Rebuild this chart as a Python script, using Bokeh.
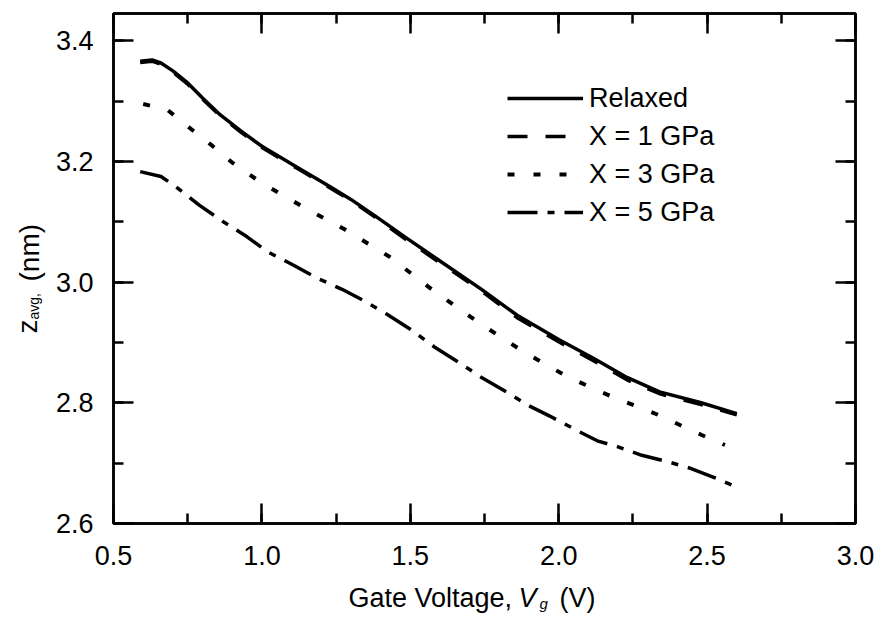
import math
from bokeh.plotting import figure
from bokeh.layouts import row, column
from bokeh.models import (Label, LinearAxis, Legend, LegendItem, SingleIntervalTicker,
                          PrintfTickFormatter, Range1d)
from bokeh.embed import file_html
from bokeh.resources import INLINE

# ---- data ----
x_relaxed = [0.59, 0.63, 0.66, 0.70, 0.75, 0.80, 0.86, 0.93, 1.00, 1.12, 1.23, 1.30, 1.38,
             1.49, 1.60, 1.74, 1.86, 2.00, 2.12, 2.23, 2.34, 2.48, 2.60]
y_relaxed = [3.366, 3.368, 3.363, 3.350, 3.330, 3.305, 3.277, 3.250, 3.225, 3.190, 3.158,
             3.137, 3.110, 3.072, 3.035, 2.988, 2.945, 2.905, 2.873, 2.842, 2.818, 2.800, 2.782]

x_1gpa = [0.59, 0.63, 0.66, 0.70, 0.75, 0.80, 0.86, 0.93, 1.00, 1.12, 1.23, 1.30, 1.38,
          1.49, 1.60, 1.74, 1.86, 2.00, 2.12, 2.23, 2.34, 2.48, 2.60]
y_1gpa = [3.364, 3.366, 3.361, 3.348, 3.328, 3.303, 3.275, 3.248, 3.223, 3.188, 3.156,
          3.135, 3.108, 3.069, 3.032, 2.985, 2.941, 2.901, 2.869, 2.838, 2.815, 2.797, 2.780]

x_3gpa = [0.60, 0.68, 0.75, 0.83, 0.90, 1.00, 1.13, 1.28, 1.43, 1.58, 1.73, 1.88, 2.03,
          2.18, 2.33, 2.48, 2.56]
y_3gpa = [3.295, 3.286, 3.258, 3.227, 3.198, 3.164, 3.127, 3.087, 3.042, 2.985, 2.933,
          2.885, 2.843, 2.810, 2.781, 2.747, 2.730]

x_5gpa = [0.59, 0.66, 0.71, 0.79, 0.87, 0.95, 1.02, 1.11, 1.18, 1.27, 1.34, 1.42, 1.50,
          1.58, 1.66, 1.74, 1.81, 1.90, 1.97, 2.07, 2.13, 2.20, 2.28, 2.37, 2.44, 2.52, 2.60]
y_5gpa = [3.183, 3.175, 3.158, 3.127, 3.100, 3.075, 3.050, 3.027, 3.008, 2.988, 2.970,
          2.947, 2.922, 2.893, 2.868, 2.842, 2.822, 2.795, 2.778, 2.752, 2.737, 2.727,
          2.713, 2.702, 2.692, 2.677, 2.660]

series_labels = ["Relaxed", "X = 1 GPa", "X = 3 GPa", "X = 5 GPa"]

FONT = "Liberation Sans"
FS = "27px"
W, H = 882, 619
LEFT_W = 50      # strip holding the y-axis title
BOTTOM_H = 40    # strip holding the x-axis title
B_LEFT, B_RIGHT = 63, 27
FRAME_X0 = LEFT_W + B_LEFT   # page x of the frame's left edge (113)

p = figure(width=W - LEFT_W, height=H - BOTTOM_H, x_range=Range1d(0.5, 3.0),
           y_range=Range1d(2.6, 3.445), output_backend="svg", toolbar_location=None,
           min_border_left=B_LEFT, min_border_right=B_RIGHT, min_border_top=13,
           min_border_bottom=56)
p.xgrid.visible = False
p.ygrid.visible = False
p.outline_line_color = "black"
p.outline_line_width = 2.5
p.background_fill_color = "white"
p.border_fill_color = "white"


def style_axis(ax, labels=True):
    ax.axis_line_width = 2.5
    ax.axis_line_color = "black"
    ax.major_tick_in = 20
    ax.major_tick_out = 0
    ax.minor_tick_in = 10
    ax.minor_tick_out = 0
    ax.major_tick_line_width = 2.5
    ax.minor_tick_line_width = 2.5
    ax.major_tick_line_color = "black"
    ax.minor_tick_line_color = "black"
    ax.major_label_text_font = FONT
    if labels:
        ax.major_label_text_font_size = FS
        ax.major_label_text_color = "black"
    else:
        ax.major_label_text_font_size = "1px"
        ax.major_label_text_color = None
        ax.major_label_standoff = 0


p.xaxis.ticker = SingleIntervalTicker(interval=0.5, num_minor_ticks=2)
p.yaxis.ticker = SingleIntervalTicker(interval=0.2, num_minor_ticks=2)
p.xaxis.formatter = PrintfTickFormatter(format="%.1f")
p.yaxis.formatter = PrintfTickFormatter(format="%.1f")
for ax in p.xaxis + p.yaxis:
    style_axis(ax)
p.xaxis.major_label_standoff = 22
p.yaxis.major_label_standoff = 20

top = LinearAxis(ticker=SingleIntervalTicker(interval=0.5, num_minor_ticks=2))
right = LinearAxis(ticker=SingleIntervalTicker(interval=0.2, num_minor_ticks=2))
style_axis(top, labels=False)
style_axis(right, labels=False)
p.add_layout(top, "above")
p.add_layout(right, "right")

r0 = p.line(x_relaxed, y_relaxed, line_color="black", line_width=3.5)
r1 = p.line(x_1gpa, y_1gpa, line_color="black", line_width=3.5, line_dash="20 18")
r3 = p.line(x_3gpa, y_3gpa, line_color="black", line_width=4, line_dash="7 19")
r5 = p.line(x_5gpa, y_5gpa, line_color="black", line_width=3.5, line_dash="30 10 7 10")

legend = Legend(items=[LegendItem(label=series_labels[0], renderers=[r0]),
                       LegendItem(label=series_labels[1], renderers=[r1]),
                       LegendItem(label=series_labels[2], renderers=[r3]),
                       LegendItem(label=series_labels[3], renderers=[r5])],
                location=(394, 292), padding=0, margin=0, spacing=0,
                glyph_width=76, glyph_height=38, label_height=38, label_standoff=6,
                label_text_font=FONT, label_text_font_size=FS, label_text_color="black",
                border_line_color=None, background_fill_alpha=0)
p.add_layout(legend, "center")


def strip(width, height, left=0, right=0):
    f = figure(width=width, height=height, output_backend="svg", toolbar_location=None,
               x_axis_type=None, y_axis_type=None, min_border_left=left,
               min_border_right=right, min_border_top=0, min_border_bottom=0,
               x_range=Range1d(0, 1), y_range=Range1d(0, 1))
    f.outline_line_color = None
    f.xgrid.visible = False
    f.ygrid.visible = False
    f.background_fill_color = "white"
    f.border_fill_color = "white"
    return f


def lab(fig, text, x, y, size=FS, style="normal", angle=0.0):
    fig.add_layout(Label(x=x, y=y, x_units="screen", y_units="screen",
                         text=text, text_font=FONT, text_font_size=size, text_font_style=style,
                         text_color="black", angle=angle, text_align="left",
                         text_baseline="alphabetic"))


# x-axis title strip (its frame is aligned with the plot frame: page x 113..855)
XB = 22  # baseline height above the strip's bottom
bot = strip(W - LEFT_W, BOTTOM_H, left=B_LEFT, right=B_RIGHT)
lab(bot, "Gate Voltage,", 348 - FRAME_X0, XB)
lab(bot, "V", 518 - FRAME_X0, XB, style="italic")
lab(bot, "g", 539 - FRAME_X0, XB - 6, size="15px", style="italic")
lab(bot, "(V)", 559 - FRAME_X0, XB)

# y-axis title strip: page x 0..50, y 0..619
lft = strip(LEFT_W, H)
ang = math.pi / 2
lab(lft, "z", 27, H - 333, size="28px", angle=ang)
lab(lft, "avg,", 33, H - 319, size="14px", angle=ang)
lab(lft, "(nm)", 29, H - 281, size="28px", angle=ang)

layout = row(lft, column(p, bot, spacing=0), spacing=0)
open("out.html", "w").write(file_html(layout, INLINE))
